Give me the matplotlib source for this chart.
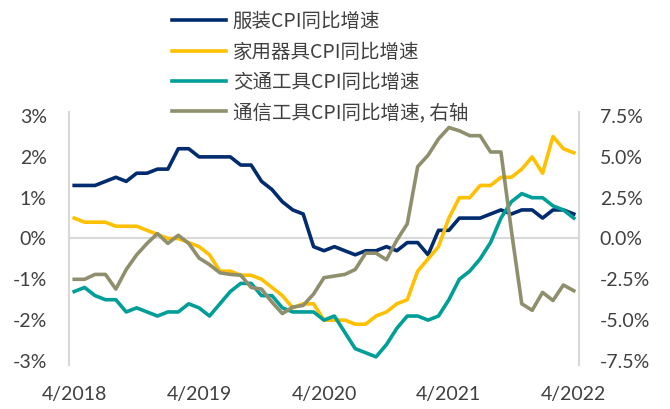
import pandas as pd
import matplotlib
matplotlib.use('Agg')
import matplotlib.pyplot as plt
from matplotlib.ticker import FuncFormatter, MultipleLocator

# mesi da 4/2018 a 4/2022
months = [f'{p.month}/{p.year}' for p in pd.period_range('2018-04', '2022-04', freq='M')]

# serie (% a/a), asse sinistro
apparel = [1.3, 1.3, 1.3, 1.4, 1.5, 1.4, 1.6, 1.6, 1.7, 1.7, 2.2, 2.2,
           2.0, 2.0, 2.0, 2.0, 1.8, 1.8, 1.4, 1.2, 0.9, 0.7, 0.6, -0.2,
           -0.3, -0.2, -0.3, -0.4, -0.3, -0.3, -0.2, -0.3, -0.1, -0.1, -0.4, 0.2,
           0.2, 0.5, 0.5, 0.5, 0.6, 0.7, 0.6, 0.7, 0.7, 0.5, 0.7, 0.7, 0.6]
appliances = [0.5, 0.4, 0.4, 0.4, 0.3, 0.3, 0.3, 0.2, 0.1, 0.0, 0.0, -0.1,
              -0.2, -0.4, -0.8, -0.8, -0.9, -0.9, -1.0, -1.2, -1.4, -1.7, -1.6, -1.6,
              -2.0, -2.0, -2.0, -2.1, -2.1, -1.9, -1.8, -1.6, -1.5, -0.8, -0.5, -0.2,
              0.5, 1.0, 1.0, 1.3, 1.3, 1.5, 1.5, 1.7, 2.0, 1.6, 2.5, 2.2, 2.1]
vehicles = [-1.3, -1.2, -1.4, -1.5, -1.5, -1.8, -1.7, -1.8, -1.9, -1.8, -1.8, -1.6,
            -1.7, -1.9, -1.6, -1.3, -1.1, -1.1, -1.4, -1.4, -1.7, -1.8, -1.8, -1.8,
            -2.0, -1.9, -2.3, -2.7, -2.8, -2.9, -2.6, -2.2, -1.9, -1.9, -2.0, -1.9,
            -1.5, -1.0, -0.8, -0.5, -0.1, 0.5, 0.9, 1.1, 1.0, 1.0, 0.8, 0.7, 0.5]
# asse destro
telecom = [-2.5, -2.5, -2.2, -2.2, -3.1, -1.9, -1.0, -0.3, 0.3, -0.3, 0.2, -0.3,
           -1.2, -1.6, -2.1, -2.2, -2.25, -3.0, -3.1, -3.9, -4.6, -4.2, -4.1, -3.4,
           -2.4, -2.3, -2.2, -1.9, -0.9, -0.9, -1.3, -0.1, 0.9, 4.4, 5.1, 6.1,
           6.8, 6.6, 6.3, 6.3, 5.3, 5.3, 0.5, -4.0, -4.4, -3.3, -3.8, -2.85, -3.2]

labels = ['服装CPI同比增速', '家用器具CPI同比增速', '交通工具CPI同比增速', '通信工具CPI同比增速, 右轴']
colors = ['#002B6F', '#FFC000', '#009E98', '#8F8F6E']

plt.rcParams['font.family'] = ['Lato', 'Noto Sans CJK SC', 'DejaVu Sans']
text_col = '#404040'
grid_col = '#D9D9D9'

fig = plt.figure(figsize=(6.7, 4.09), dpi=100)
ax = fig.add_axes([69 / 670, 44 / 409, 510 / 670, 253 / 409])
ax2 = ax.twinx()

x = list(range(len(months)))
lw = 2.6
h1, = ax.plot(x, apparel, color=colors[0], lw=lw)
h2, = ax.plot(x, appliances, color=colors[1], lw=lw)
h3, = ax.plot(x, vehicles, color=colors[2], lw=lw)
h4, = ax2.plot(x, telecom, color=colors[3], lw=lw)

ax.axhline(0, color=grid_col, lw=1.5, zorder=0)

ax.set_xlim(-0.5, len(months) - 0.5)
ax.set_ylim(-3.1, 3.1)
ax2.set_ylim(-7.75, 7.75)
ax.yaxis.set_major_locator(MultipleLocator(1))
ax2.yaxis.set_major_locator(MultipleLocator(2.5))
ax.yaxis.set_major_formatter(FuncFormatter(lambda v, p: f'{v:.0f}%'))
ax2.yaxis.set_major_formatter(FuncFormatter(lambda v, p: f'{v:.1f}%'))
ax.set_xticks(x[::12])
ax.set_xticklabels(months[::12])

for a in (ax, ax2):
    for s in ('top', 'bottom'):
        a.spines[s].set_visible(False)
    a.spines['left'].set_color(grid_col)
    a.spines['right'].set_color(grid_col)
    a.spines['left'].set_linewidth(1.5)
    a.spines['right'].set_linewidth(1.5)
    a.tick_params(length=0, labelsize=14, colors=text_col)
ax.tick_params(axis='y', pad=16)
ax2.tick_params(axis='y', pad=15)
ax.tick_params(axis='x', pad=15)

fig.legend([h1, h2, h3, h4], labels, loc='upper left', bbox_to_anchor=(158 / 670, 1.006),
           frameon=False, prop={'family': ['Noto Sans CJK SC'], 'size': 14},
           labelcolor=text_col, handlelength=2.8, handletextpad=0.35,
           labelspacing=0.48, borderpad=0.2)

fig.savefig('out.png', dpi=100)
